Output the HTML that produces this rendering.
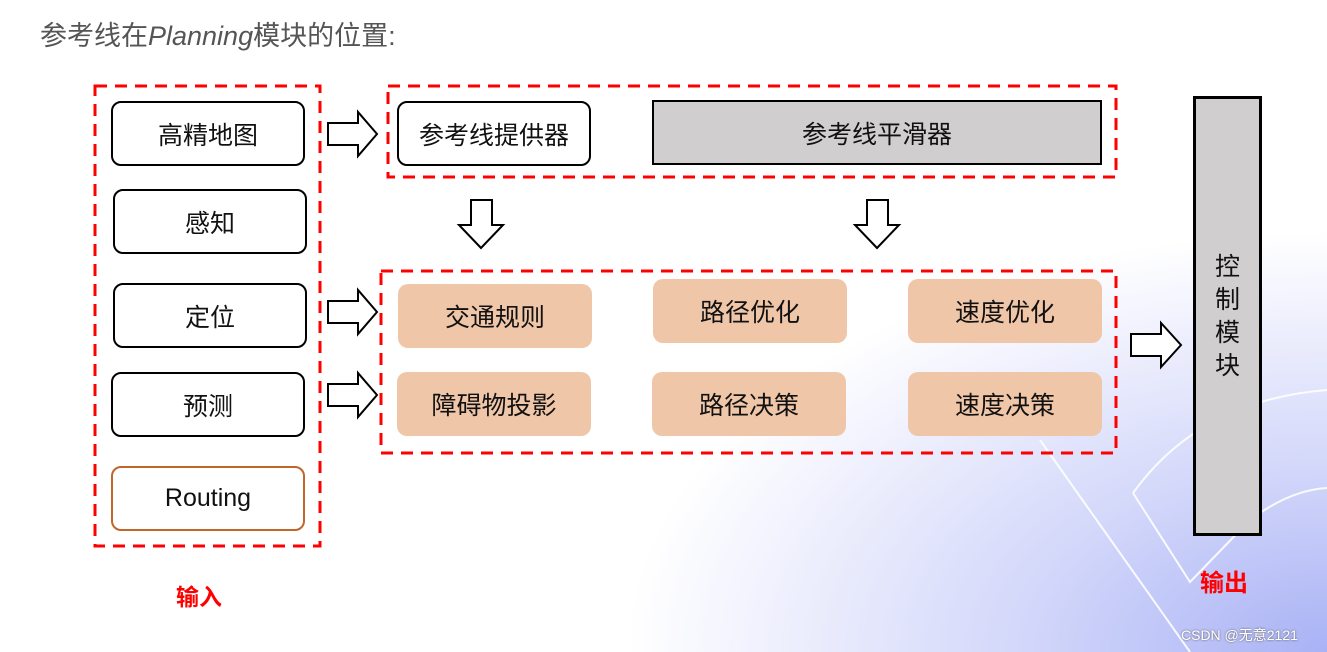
<!DOCTYPE html>
<html><head><meta charset="utf-8"><style>
body{margin:0;width:1327px;height:652px;overflow:hidden;position:relative;font-family:"Liberation Sans","Noto Sans CJK SC",sans-serif;background:#fff}
.bg{position:absolute;left:0;top:0;width:1327px;height:652px;background:radial-gradient(ellipse 700px 420px at 1327px 652px,#a9b2f5 0%,#d4d8fa 45%,rgba(255,255,255,0) 100%)}
.b{position:absolute;box-sizing:border-box;display:flex;align-items:center;justify-content:center;font-size:25px;color:#111}
.w{border:2px solid #000;border-radius:10px;background:#fff}
.p{background:#f0c6a8;border-radius:10px}
</style></head><body>
<div class="bg"></div>
<svg style="position:absolute;left:0;top:0" width="1327" height="652">
<g fill="none" stroke="#fff" stroke-width="2" opacity="0.9">
<path d="M0 490 Q220 520 320 652"/><path d="M1040 440 L1190 652"/><path d="M1133 493 L1190 582 L1250 520 Q1290 490 1327 488"/><path d="M1133 493 Q1200 400 1327 390"/>
</g>
<g fill="none" stroke="#f00" stroke-width="3" stroke-dasharray="12 8">
<rect x="95" y="86" width="225" height="460"/>
<rect x="388" y="86" width="728" height="91"/>
<rect x="381" y="271" width="735" height="182"/>
</g>
<g fill="#fff" stroke="#000" stroke-width="2">
<path d="M328 123 H358 V112 L377 134 L358 156 V145 H328 Z"/>
<path d="M328 301 H358 V290 L377 312 L358 334 V323 H328 Z"/>
<path d="M328 384 H358 V373 L377 395 L358 417 V406 H328 Z"/>
<path d="M1131 334 H1161 V323 L1181 345 L1161 367 V356 H1131 Z"/>
<path d="M471 200 H492 V225 H503 L481 248 L459 225 H471 Z"/>
<path d="M867 200 H888 V225 H899 L877 248 L855 225 H867 Z"/>
</g></svg>
<div style="position:absolute;left:40px;top:14px;font-size:27px;color:#555">参考线在<i>Planning</i>模块的位置:</div>
<div class="b w" style="left:111px;top:101px;width:194px;height:65px">高精地图</div>
<div class="b w" style="left:113px;top:189px;width:194px;height:65px">感知</div>
<div class="b w" style="left:113px;top:283px;width:194px;height:65px">定位</div>
<div class="b w" style="left:111px;top:372px;width:194px;height:65px">预测</div>
<div class="b w" style="left:111px;top:466px;width:194px;height:65px;border-color:#c0662a">Routing</div>
<div style="position:absolute;left:176px;top:578px;font-size:23px;font-weight:bold;color:#f00">输入</div>
<div class="b w" style="left:397px;top:101px;width:194px;height:65px">参考线提供器</div>
<div class="b" style="left:652px;top:100px;width:450px;height:65px;background:#d0cece;border:2px solid #000">参考线平滑器</div>
<div class="b p" style="left:398px;top:284px;width:194px;height:64px">交通规则</div>
<div class="b p" style="left:653px;top:279px;width:194px;height:64px">路径优化</div>
<div class="b p" style="left:908px;top:279px;width:194px;height:64px">速度优化</div>
<div class="b p" style="left:397px;top:372px;width:194px;height:64px">障碍物投影</div>
<div class="b p" style="left:652px;top:372px;width:194px;height:64px">路径决策</div>
<div class="b p" style="left:908px;top:372px;width:194px;height:64px">速度决策</div>
<div class="b" style="left:1193px;top:96px;width:69px;height:440px;background:#d0cece;border:3px solid #000;flex-direction:column;line-height:33px;justify-content:flex-start;padding-top:152px">控<br>制<br>模<br>块</div>
<div style="position:absolute;left:1200px;top:563px;font-size:24px;font-weight:bold;color:#f00">输出</div>
<div style="position:absolute;left:1181px;top:625px;font-size:14px;color:#fff;text-shadow:0 0 2px #555">CSDN @无意2121</div>
</body></html>
